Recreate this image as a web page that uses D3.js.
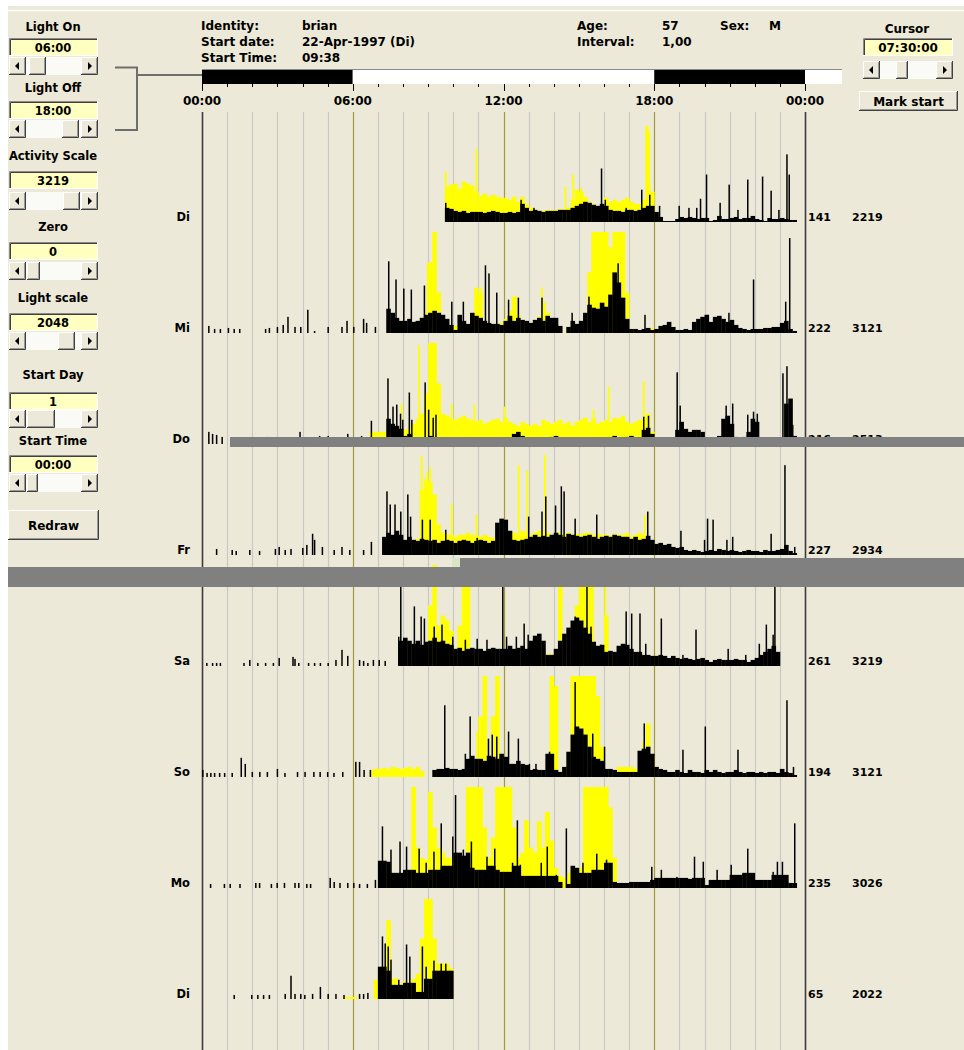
<!DOCTYPE html>
<html><head><meta charset="utf-8">
<script src="https://cdn.jsdelivr.net/npm/d3@7"></script>
<style>
body{margin:0;background:#fff}
svg{display:block}
text{font-family:"DejaVu Sans",sans-serif;font-weight:bold;fill:#000}
</style>
</head><body>
<svg id="c" width="964" height="1050"></svg>
<script>
// ---------- header info ----------
const identity = "brian";
const startDate = "22-Apr-1997 (Di)";
const startTime = "09:38";
const age = "57";
const sex = "M";
const interval = "1,00";
const cursorTime = "07:30:00";
const lightOn = 6, lightOff = 18;

// ---------- left control values ----------
const ctrlLabels = ["Light On","Light Off","Activity Scale","Zero","Light scale","Start Day","Start Time"];
const ctrlValues = ["06:00","18:00","3219","0","2048","1","00:00"];

// ---------- axis ----------
const hourTicks = d3.range(0, 25);
const hourLabelPos = [0, 6, 12, 18, 24];
const hourLabels = ["00:00","06:00","12:00","18:00","00:00"];

// ---------- days ----------
const dayNames  = ["Di","Mi","Do","Fr","Sa","So","Mo","Di"];
const dayCounts = ["141","222","216","227","261","194","235","65"];
const dayMaxima = ["2219","3121","2513","2934","3219","3121","3026","2022"];

// activity (black) 10-minute bins, % of row height, starting at actStart hour
const actStart = [9, 7, 7, 7, 7, 9, 7, 7];
const act1 = [0,0,0,0,14,13, 11,10,11,9,10,10, 10,9,10,11,10,9, 9,10,9,10,18,14, 11,12,11,10,11,11, 11,12,12,12,14,16, 18,20,19,17,16,18, 16,12,11,11,10,12, 12,11,12,14,16,16, 10,5,1,1,1,3, 5,4,5,4,3,4, 4,1,2,6,3,3, 4,5,3,4,4,6, 3,2,1,4,3,3, 4,3,2,2];
const act2 = [0,0,24,20,15,12, 12,14,11,12,15,18, 20,22,20,18,14,8, 3,18,12,9,20,17, 15,12,10,9,9,8, 12,17,12,15,13,12, 10,13,15,12,17,15, 15,7,0,6,12,9, 12,20,28,25,24,30, 26,38,60,50,35,14, 4,4,3,4,5,3, 4,7,8,11,6,3, 3,4,3,11,14,16, 18,11,16,17,14,11, 13,8,5,4,3,4, 4,4,5,5,6,6, 10,12,4,2];
const act3 = [0,0,25,20,18,15, 8,10,3,1,2,6, 8,6,5,4,4,3, 3,3,4,3,3,3, 4,3,3,4,3,3, 4,5,10,12,8,4, 3,4,3,4,5,7, 8,5,4,3,4,3, 3,4,3,4,5,3, 4,6,8,5,4,7, 8,4,4,14,16,10, 3,4,3,4,3,14, 22,15,12,14,14,12, 5,4,5,8,25,28, 20,7,6,7,12,25, 22,3,2,2,3,3, 4,40,45,8];
const act4 = [0,18,22,20,24,20, 15,18,15,14,16,15, 14,15,12,14,15,14, 12,14,15,14,12,14, 15,14,12,14,32,36, 35,24,15,14,15,16, 18,20,18,19,18,20, 22,20,18,21,20,19, 18,19,20,18,16,18, 19,18,20,19,18,18, 16,18,15,16,19,15, 11,12,10,11,8,7, 8,5,4,5,4,3, 4,5,4,6,5,4, 5,4,3,4,5,4, 4,3,5,4,4,5, 6,10,4,2];
const act5 = [0,0,0,0,0,25, 28,25,22,25,21,24, 25,28,24,25,22,21, 17,18,15,17,18,17, 17,15,17,18,17,17, 17,20,17,18,20,17, 25,30,32,25,11,11, 17,25,32,38,45,48, 45,38,32,24,20,21, 14,15,14,20,22,21, 17,14,14,11,11,10, 10,11,10,8,10,8, 7,8,7,6,7,8, 6,4,6,7,6,6, 6,7,6,6,4,6, 8,11,14,17,20,14];
const act6 = [0,7,8,8,9,8, 8,7,8,18,21,18, 18,16,21,20,18,23, 20,13,13,16,13,12, 7,8,7,7,23,23, 7,5,10,25,42,50, 48,42,30,20,18,16, 8,8,7,5,5,5, 5,5,26,28,30,23, 10,8,7,5,5,7, 5,4,7,5,5,4, 7,5,7,5,4,5, 5,7,5,4,5,5, 4,5,4,5,5,4, 8,5,4,2];
const act7 = [27,27,26,15,15,15, 18,18,18,15,15,15, 18,18,18,22,22,22, 35,35,32,35,20,18, 18,18,22,22,18,16, 16,16,22,22,12,12, 12,12,12,12,12,12, 12,6,0,4,22,20, 15,15,15,18,18,18, 25,25,6,5,5,5, 6,6,6,6,6,8, 10,10,10,10,10,10, 10,10,9,10,10,10, 3,8,8,8,8,8, 13,13,13,15,15,15, 8,8,8,8,13,13, 13,13,5,5];
const act8 = [32,32,28,14,14,14, 16,16,16,7,7,20, 20,28,28,28,28,28];

// light (yellow) 10-minute bins, % of row height, starting at lightStart hour
const lightStart = [9, 7, 6, 7, 9, 6, 7, 5];
const light1 = [0,0,0,0,35,37, 38,33,40,38,36,30, 26,28,25,27,25,24, 24,22,25,20,25,18, 14,12,11,11,12,12, 12,13,12,14,22,32, 30,25,20,18,14,16, 24,20,22,20,22,24, 20,18,18,22,40,30, 3,2,1,1,1,1];
const light2 = [0,0,3,4,3,5, 5,6,8,10,15,20, 70,100,40,12,8,6, 7,5,6,8,10,45, 40,12,10,8,8,10, 14,22,36,18,12,10, 10,12,16,30,20,15, 8,4,0,6,8,6, 8,8,60,100,100,100, 100,85,100,100,100,40, 4,4,3,3,5,4, 2,2,2,2,2,2, 2,2,2,2,2,2, 1,1,1,1,1,1, 1,1,1,1,1,1, 1,1,1,1,1,1, 1,1,1,1];
const light3 = [0,0,0,0,12,12, 12,12,5,8,10,12, 14,16,20,25,30,50, 100,100,60,30,28,25, 24,26,28,25,24,22, 24,20,22,24,25,22, 26,22,20,18,22,20, 18,20,18,24,22,20, 22,24,20,22,18,22, 24,26,22,25,20,22, 24,22,26,25,28,22, 20,22,24,25,30,12, 4,3,3,5,4,3, 2,2,2,2,2,2, 1,1,1,1,1,1, 1,1,1,1,1,1, 1,1,1,1,1,1, 1,1,1,1];
const light4 = [0,3,4,5,6,8, 10,12,14,16,65,75, 72,60,30,22,20,20, 18,20,20,22,20,19, 18,20,18,17,16,15, 15,18,22,20,24,22, 20,22,24,20,22,20, 21,22,20,22,20,21, 20,22,22,20,21,20, 20,19,21,20,20,22, 18,20,22,20,10,5, 3,2,2,2,2,2, 2,2,2,2,2,2, 1,1,1,1,1,1, 1,1,1,1,1,1, 1,1,1,1,1,1, 1,1,1,1];
const light5 = [60,100,40,50,45,35, 10,40,100,100,10,6, 5,5,5,6,8,5, 4,4,4,4,5,5, 5,6,5,12,12,12, 12,80,5,5,6,60, 100,100,100,20,10,12, 50,5,4,4,3,3, 2,2,2,2,2,2, 2,2,2,2,2,2, 1,1,1,1,1,1, 1,1,1,1,1,1, 1,1,1,1,1,1, 1,1,1,1,1,1];
const light6 = [0,0,0,0,7,8, 8,9,8,10,9,8, 9,10,8,10,6,0, 0,0,0,0,0,0, 0,0,2,3,4,5, 60,100,5,60,100,10, 8,6,6,5,5,4, 4,4,5,5,5,100, 90,5,4,20,100,100, 100,100,100,100,80,30, 5,6,7,10,10,10, 10,8,9,20,53,20, 4,3,3,3,2,2, 2,2,2,2,2,2, 1,1,1,1,1,1, 1,1,1,1,1,1, 1,1,1,1,1,1, 1,1,1,1];
const light7 = [10,12,14,15,12,14, 16,18,100,40,30,28, 95,60,40,35,30,30, 30,35,20,100,100,100, 100,60,30,50,100,100, 100,100,60,30,35,67, 40,35,66,40,75,47, 20,12,10,15,20,18, 20,100,100,100,100,100, 100,80,30,5,4,3, 3,3,3,3,3,3, 2,2,2,2,2,2, 2,2,2,2,2,2, 2,2,2,2,2,2, 1,1,1,1,1,1, 1,1,1,1,1,1, 1,1,1,1];
const light8 = [0,0,0,0,2,2, 2,0,0,0,0,19, 30,30,78,20,20,15, 18,15,20,25,60,99, 99,60,35,35,35,30];

// activity spikes [hour, % of row height]
const spk1 = [[9.70,19],[12.70,22],[13.21,14],[15.90,53],[16.05,22],[16.88,14],[17.50,32],[17.82,27],[18.21,16],[18.99,16],[19.38,14],[19.69,14],[19.84,23],[20.08,47],[20.62,19],[20.98,37],[21.33,12],[21.72,42],[22.31,45],[22.65,31],[22.96,12],[23.28,67],[23.37,47]];
const spk2 = [[0.27,7],[0.5,4],[0.73,4],[1.05,5],[1.28,4],[1.5,4],[2.53,4],[2.68,5],[3.0,6],[3.23,8],[3.42,16],[3.7,6],[3.93,6],[4.21,23],[4.48,2],[5.02,6],[5.57,6],[5.77,12],[6.04,6],[6.43,14],[6.55,10],[6.9,6],[7.43,71],[7.72,53],[8.03,44],[8.33,43],[8.85,47],[9.94,31],[10.4,31],[11.28,67],[11.42,59],[11.73,40],[12.2,33],[12.59,35],[13.53,35],[14.73,20],[15.4,36],[16.56,69],[17.63,18],[20.12,18],[20.97,20],[21.95,53],[23.23,31],[23.39,94]];
const spk3 = [[0.27,12],[0.42,10],[0.58,9],[0.8,7],[2.6,7],[3.9,12],[4.68,8],[5.02,8],[5.8,10],[6.35,8],[6.74,23],[7.4,65],[7.6,37],[7.75,39],[7.9,30],[7.99,24],[8.25,51],[8.35,24],[8.88,61],[9.02,34],[9.2,26],[9.31,29],[17.58,27],[17.77,28],[18.91,71],[19.03,38],[20.86,38],[21.12,40],[21.72,29],[21.95,32],[22.1,30],[23.12,70],[23.28,77],[23.51,19]];
const spk4 = [[0.58,6],[1.2,5],[1.36,4],[1.9,5],[2.29,4],[2.92,6],[3.07,8],[3.31,5],[3.54,6],[4.01,7],[4.17,10],[4.4,21],[4.48,15],[4.79,8],[5.26,5],[5.57,8],[5.88,5],[6.43,5],[6.74,13],[7.36,63],[7.49,50],[7.68,50],[7.91,43],[8.19,60],[8.3,38],[8.77,35],[9.08,35],[9.7,25],[10.95,17],[13.0,38],[13.53,43],[13.68,58],[14.07,49],[14.3,68],[14.41,63],[14.85,36],[15.71,40],[17.74,43],[19.06,24],[20.0,15],[20.12,36],[20.34,35],[20.89,15],[21.12,18],[22.65,21],[23.2,89],[23.59,8]];
const spk5 = [[0.19,3],[0.42,3],[0.58,3],[0.73,3],[1.67,3],[1.9,6],[2.22,3],[2.53,3],[2.84,3],[3.07,8],[3.62,9],[3.7,7],[3.85,3],[4.24,3],[4.48,3],[4.71,3],[5.02,3],[5.33,6],[5.57,16],[5.8,10],[6.27,6],[6.43,5],[6.6,3],[6.82,6],[7.05,6],[7.29,5],[7.83,29],[7.91,80],[8.45,59],[8.72,49],[8.85,47],[9.24,39],[9.55,41],[9.98,29],[10.48,26],[10.95,27],[11.34,26],[11.97,80],[12.12,29],[12.51,29],[12.82,42],[12.98,31],[14.85,49],[15.32,80],[15.48,39],[15.87,21],[16.88,54],[17.1,52],[17.43,52],[17.66,22],[18.28,47],[19.14,11],[19.66,36],[20.94,17],[21.64,11],[22.18,22],[22.46,41],[22.73,31],[22.8,80]];
const spk6 = [[0.03,7],[0.2,4],[0.35,4],[0.5,4],[0.7,4],[0.9,4],[1.2,4],[1.56,19],[1.72,13],[2.0,5],[2.3,5],[2.6,5],[3.0,8],[3.3,4],[3.8,5],[4.1,5],[4.45,5],[4.7,5],[5.0,5],[5.25,4],[5.6,5],[6.12,15],[6.27,15],[6.45,7],[6.7,7],[9.66,71],[10.48,23],[10.67,60],[11.4,38],[11.55,42],[11.73,40],[12.2,45],[12.59,38],[13.03,13],[13.29,13],[13.83,25],[14.39,7],[14.85,94],[15.55,43],[16.02,30],[17.6,53],[19.14,27],[20.03,50],[21.33,27],[23.28,76],[23.54,10]];
const spk7 = [[0.34,4],[0.89,4],[1.12,4],[1.51,4],[2.14,5],[2.29,5],[2.76,4],[2.99,5],[3.28,5],[3.7,5],[3.85,5],[4.17,4],[4.32,4],[5.1,10],[5.26,6],[5.49,5],[5.8,5],[6.04,5],[6.27,4],[6.58,4],[6.9,8],[7.18,61],[7.52,38],[7.88,46],[8.14,41],[8.64,39],[8.92,25],[9.23,36],[9.52,64],[9.98,51],[10.09,92],[10.4,38],[10.72,46],[11.34,31],[11.65,39],[12.36,25],[12.55,67],[12.67,23],[13.5,25],[13.74,41],[14.1,13],[14.5,59],[14.8,18],[15.16,25],[15.71,34],[16.1,28],[17.9,21],[18.28,18],[18.9,11],[19.6,31],[19.95,26],[20.5,18],[21.06,23],[21.72,39],[22.73,16],[22.9,26],[23.1,26],[23.59,64]];
const spk8 = [[1.28,4],[1.98,4],[2.22,4],[2.45,4],[2.68,4],[3.31,5],[3.54,23],[3.7,5],[3.93,5],[4.09,4],[4.4,5],[4.71,12],[5.02,5],[5.33,5],[5.65,4],[6.27,5],[6.43,5],[6.6,6],[7.18,62],[7.29,55],[7.41,52],[7.52,39],[7.83,19],[8.14,54],[8.27,42],[8.77,52],[8.92,32],[9.08,19],[9.23,38],[9.52,35],[9.7,35]];

// light spikes [hour, % of row height]
const lspk1 = [[9.70,50],[10.92,72],[14.46,35],[14.77,47],[15.08,34],[17.68,95],[17.74,95],[17.79,90]];
const lspk2 = [[8.98,69],[11.1,45],[12.5,36],[13.53,45]];
const lspk3 = [[7.94,40],[8.64,98],[9.94,40],[10.84,39],[12.04,37],[15.58,34],[16.18,57],[17.58,62]];
const lspk4 = [[8.74,98],[8.97,82],[9.08,87],[9.94,51],[10.92,40],[12.6,89],[12.95,84],[13.65,99],[17.63,40]];
const lspk5 = [[11.65,14],[16.05,100],[15.55,100]];
const lspk6 = [[10.95,45],[17.55,35]];
const lspk7 = [[8.45,100],[12.86,67],[13.37,66],[13.68,75]];
const lspk8 = [[7.44,78],[7.47,75]];

// scrollbar thumb positions [left x, width] for the left controls
const thumbPos = [[29,17],[62,17],[63,17],[27,13],[58,17],[27,28],[27,11]];

const acts = [act1,act2,act3,act4,act5,act6,act7,act8];
const lights = [light1,light2,light3,light4,light5,light6,light7,light8];
const spks = [spk1,spk2,spk3,spk4,spk5,spk6,spk7,spk8];
const lspks = [lspk1,lspk2,lspk3,lspk4,lspk5,lspk6,lspk7,lspk8];

// ---------- drawing ----------
const W = 964, H = 1050, BG = "#ECE9D8";
const svg = d3.select("#c");
svg.append("rect").attr("width", W).attr("height", H).attr("fill", "#fff");
svg.append("rect").attr("x", 8).attr("y", 6).attr("width", W - 8).attr("height", H - 6).attr("fill", BG);
svg.append("line").attr("x1", 8).attr("x2", W).attr("y1", 10.5).attr("y2", 10.5).attr("stroke", "#fff").attr("stroke-width", 1.5);

const x = d3.scaleLinear().domain([0, 24]).range([202, 805]);
const hgt = d3.scaleLinear().domain([0, 100]).range([0, 101]).clamp(true);
const rowBase = i => 222 + 111 * i;

// grid lines
const grid = svg.append("g");
grid.selectAll("line").data(d3.range(1, 24)).join("line")
  .attr("x1", d => Math.round(x(d)) + 0.5).attr("x2", d => Math.round(x(d)) + 0.5)
  .attr("y1", 112).attr("y2", H)
  .attr("stroke", d => d % 6 === 0 ? "#A09A3A" : "#C8C8C4").attr("stroke-width", 1.2);
grid.selectAll("line.ax").data([0, 24]).join("line").attr("class", "ax")
  .attr("x1", d => Math.round(x(d)) + 0.5).attr("x2", d => Math.round(x(d)) + 0.5)
  .attr("y1", 112).attr("y2", H).attr("stroke", "#3c3c3c").attr("stroke-width", 1.6);

// rows
const binW = x(1 / 6) - x(0);
dayNames.forEach((name, r) => {
  const base = rowBase(r);
  const g = svg.append("g");
  const lb = lights[r].map((v, i) => ({h: lightStart[r] + i / 6, v})).filter(d => d.v > 0);
  g.selectAll("rect.l").data(lb).join("rect").attr("class", "l")
    .attr("x", d => x(d.h)).attr("width", binW + 0.4)
    .attr("y", d => base - hgt(d.v)).attr("height", d => hgt(d.v)).attr("fill", "#FFFF00");
  g.selectAll("rect.ls").data(lspks[r]).join("rect").attr("class", "ls")
    .attr("x", d => x(d[0]) - 0.8).attr("width", 1.8)
    .attr("y", d => base - hgt(d[1])).attr("height", d => hgt(d[1])).attr("fill", "#FFFF00");
  const ab = acts[r].map((v, i) => ({h: actStart[r] + i / 6, v})).filter(d => d.v > 0);
  g.selectAll("rect.a").data(ab).join("rect").attr("class", "a")
    .attr("x", d => x(d.h)).attr("width", binW + 0.4)
    .attr("y", d => base - hgt(d.v)).attr("height", d => hgt(d.v)).attr("fill", "#000");
  g.selectAll("rect.s").data(spks[r]).join("rect").attr("class", "s")
    .attr("x", d => x(d[0]) - 0.7).attr("width", 1.5)
    .attr("y", d => base - hgt(d[1])).attr("height", d => hgt(d[1])).attr("fill", "#000");
  svg.append("text").attr("x", 190).attr("y", base - 1).attr("text-anchor", "end")
    .attr("font-size", 11.5).text(name);
  svg.append("text").attr("x", 808).attr("y", base - 1).attr("font-size", 11).text(dayCounts[r]);
  svg.append("text").attr("x", 852).attr("y", base - 1).attr("font-size", 11).text(dayMaxima[r]);
});

// light/dark bar
const bar = svg.append("g");
const barSegs = [[0, lightOn, "#000"], [lightOn, lightOff, "#fff"], [lightOff, 24, "#000"]];
bar.selectAll("rect").data(barSegs).join("rect")
  .attr("x", d => x(d[0])).attr("width", d => x(d[1]) - x(d[0]))
  .attr("y", 70).attr("height", 14).attr("fill", d => d[2]);
bar.append("rect").attr("x", x(24)).attr("width", 842 - x(24)).attr("y", 70).attr("height", 14).attr("fill", "#fff");
bar.append("line").attr("x1", x(0)).attr("x2", 842).attr("y1", 69.5).attr("y2", 69.5).attr("stroke", "#8a8a8a");
bar.selectAll("line.t").data(hourTicks).join("line").attr("class", "t")
  .attr("x1", d => Math.round(x(d)) + 0.5).attr("x2", d => Math.round(x(d)) + 0.5)
  .attr("y1", 84).attr("y2", d => d % 6 === 0 ? 91 : 87).attr("stroke", "#000");
bar.selectAll("text").data(hourLabelPos).join("text")
  .attr("x", d => x(d)).attr("y", 105).attr("text-anchor", "middle").attr("font-size", 12)
  .text((d, i) => hourLabels[i]);

// bracket
svg.append("path").attr("d", "M115,67.5H137V130H115M137,75H202")
  .attr("fill", "none").attr("stroke", "#6e6e6e").attr("stroke-width", 2);

// header text
const hdr = svg.append("g");
[["Identity:", 201, 30], ["Start date:", 201, 46], ["Start Time:", 201, 62],
 [identity, 302, 30], [startDate, 302, 46], [startTime, 302, 62],
 ["Age:", 577, 30], ["Interval:", 577, 46], [age, 662, 30], [interval, 662, 46],
 ["Sex:", 720, 30], [sex, 769, 30]].forEach(t => {
  hdr.append("text").attr("x", t[1]).attr("y", t[2]).attr("font-size", 12).text(t[0]);
});

// 3D helpers
function raised(x0, y0, w, h) {
  const g = svg.append("g");
  g.append("rect").attr("x", x0).attr("y", y0).attr("width", w).attr("height", h).attr("fill", BG);
  g.append("path").attr("d", `M${x0 + 0.5},${y0 + h}V${y0 + 0.5}H${x0 + w}`).attr("stroke", "#fff").attr("fill", "none");
  g.append("path").attr("d", `M${x0},${y0 + h - 0.5}H${x0 + w - 0.5}V${y0}`).attr("stroke", "#404040").attr("fill", "none");
  g.append("path").attr("d", `M${x0 + 1},${y0 + h - 1.5}H${x0 + w - 1.5}V${y0 + 1}`).attr("stroke", "#9a9a9a").attr("fill", "none");
  return g;
}
function sunken(x0, y0, w, h, fill) {
  const g = svg.append("g");
  g.append("rect").attr("x", x0).attr("y", y0).attr("width", w).attr("height", h).attr("fill", fill);
  g.append("path").attr("d", `M${x0 + 0.5},${y0 + h}V${y0 + 0.5}H${x0 + w}`).attr("stroke", "#8a8a8a").attr("fill", "none");
  g.append("path").attr("d", `M${x0 + 1.5},${y0 + h - 1}V${y0 + 1.5}H${x0 + w - 1}`).attr("stroke", "#404040").attr("fill", "none");
  g.append("path").attr("d", `M${x0},${y0 + h - 0.5}H${x0 + w - 0.5}V${y0}`).attr("stroke", "#fff").attr("fill", "none");
  return g;
}
function scrollbar(x0, y0, w, h, tx, tw) {
  svg.append("rect").attr("x", x0).attr("y", y0).attr("width", w).attr("height", h).attr("fill", "#FAFAF6");
  raised(x0, y0, 17, h);
  raised(x0 + w - 17, y0, 17, h);
  raised(tx, y0, tw, h);
  const cy = y0 + h / 2;
  svg.append("path").attr("d", `M${x0 + 6},${cy}L${x0 + 10},${cy - 4}V${cy + 4}Z`).attr("fill", "#000");
  svg.append("path").attr("d", `M${x0 + w - 6},${cy}L${x0 + w - 10},${cy - 4}V${cy + 4}Z`).attr("fill", "#000");
}

// left controls
const ctrlY = [{l: 31, b: 38, s: 57}, {l: 92, b: 101, s: 120}, {l: 160, b: 171, s: 192}, {l: 231, b: 242, s: 262},
               {l: 302, b: 313, s: 332}, {l: 379, b: 392, s: 410}, {l: 445, b: 455, s: 474}];
ctrlLabels.forEach((lab, i) => {
  const p = ctrlY[i];
  svg.append("text").attr("x", 53).attr("y", p.l).attr("text-anchor", "middle").attr("font-size", 11.5).text(lab);
  sunken(9, p.b, 89, 18, "#FFFFC0");
  svg.append("text").attr("x", 53).attr("y", p.b + 14).attr("text-anchor", "middle").attr("font-size", 11.5).text(ctrlValues[i]);
  scrollbar(9, p.s, 89, 18, thumbPos[i][0], thumbPos[i][1]);
});
raised(8, 510, 91, 30);
svg.append("text").attr("x", 53.5).attr("y", 530).attr("text-anchor", "middle").attr("font-size", 12).text("Redraw");

// right controls
svg.append("text").attr("x", 907).attr("y", 33).attr("text-anchor", "middle").attr("font-size", 12).text("Cursor");
sunken(863, 38, 90, 18, "#FFFFC0");
svg.append("text").attr("x", 908).attr("y", 52).attr("text-anchor", "middle").attr("font-size", 12).text(cursorTime);
scrollbar(863, 61, 90, 18, 896, 12);
raised(859, 91, 99, 20);
svg.append("text").attr("x", 908.5).attr("y", 106).attr("text-anchor", "middle").attr("font-size", 12).text("Mark start");

// overlay bars (window artefacts)
svg.append("rect").attr("x", 230).attr("y", 437).attr("width", W - 230).attr("height", 10).attr("fill", "#808080");
svg.append("rect").attr("x", 452).attr("y", 558).attr("width", 8).attr("height", 9).attr("fill", "#d6e6c6");
svg.append("rect").attr("x", 460).attr("y", 558).attr("width", W - 460).attr("height", 10).attr("fill", "#808080");
svg.append("rect").attr("x", 8).attr("y", 567).attr("width", W - 8).attr("height", 20).attr("fill", "#808080");
</script>
</body></html>
